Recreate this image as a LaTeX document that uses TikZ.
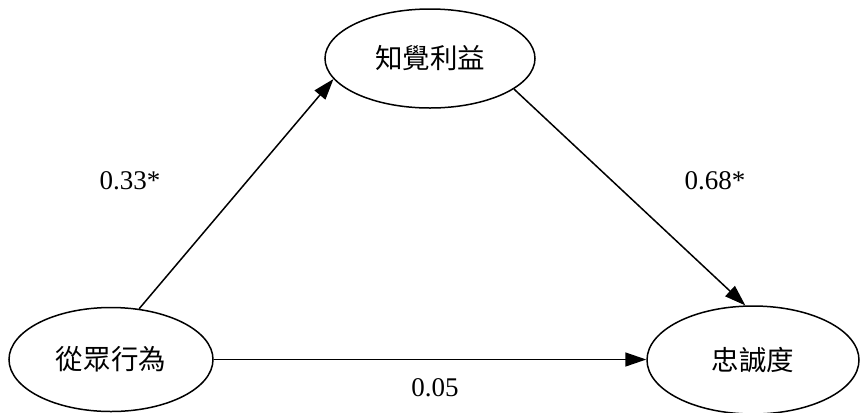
\documentclass[tikz,border=0pt]{standalone}
\usepackage{fontspec}
\setmainfont{Liberation Serif}
\newfontfamily\cjk{Noto Sans CJK TC}
\usetikzlibrary{shapes.geometric,arrows.meta}
\tikzset{
  var/.style={ellipse, draw, line width=1.5bp, inner sep=0pt, font=\cjk\fontsize{27.5bp}{30bp}\selectfont},
  path/.style={line width=1.5bp, -{Triangle[length=21bp,width=14bp]}},
  coef/.style={font=\fontsize{27bp}{30bp}\selectfont, inner sep=0pt}
}
\begin{document}
\begin{tikzpicture}[x=1bp,y=-1bp]
\useasboundingbox (0,0) rectangle (860,412);
\node[var, minimum width=210bp, minimum height=99bp] (T) at (430,58.5) {知覺利益};
\node[var, minimum width=204bp, minimum height=104bp] (L) at (111,359.5) {從眾行為};
\node[var, minimum width=212bp, minimum height=108bp] (R) at (753,360) {忠誠度};
\draw[path] (L.61) -- (T.192.5);
\draw[path] (T.340) -- (R.98.6);
\draw[path] (L.east) -- (L.east -| R.west);
\node[coef] (c1) at (130,181) {0.33*};
\node[coef] (c2) at (715,181) {0.68*};
\node[coef] (c3) at (435,388) {0.05};
\end{tikzpicture}
\end{document}
